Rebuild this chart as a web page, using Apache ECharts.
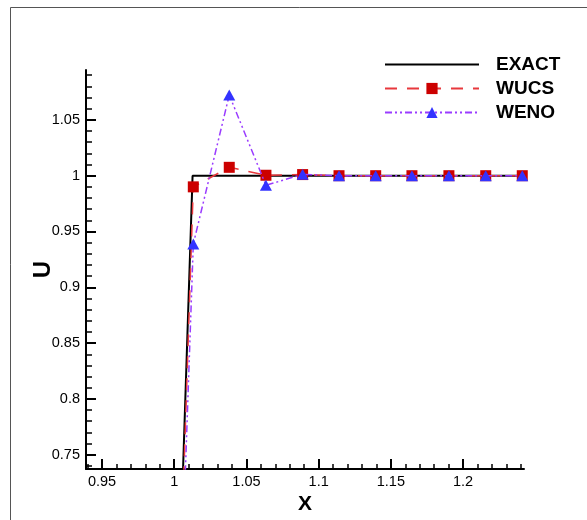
<!DOCTYPE html>
<html>
<head>
<meta charset="utf-8">
<script src="https://cdn.jsdelivr.net/npm/echarts@6/dist/echarts.min.js"></script>
<style>
html,body{margin:0;padding:0;background:#fff;}
#c{width:587px;height:520px;}
</style>
</head>
<body>
<div id="c"></div>
<script>
// ---- data ----
const xGrid = [0.9879, 1.0132, 1.0381, 1.0635, 1.0889, 1.1141, 1.1395, 1.1646, 1.1902, 1.2157, 1.2410];
const wucsU = [0.0, 0.990, 1.0075, 1.0004, 1.001, 1.0, 1.0, 1.0, 1.0, 1.0, 1.0];
const wenoU = [0.0, 0.9388, 1.0723, 0.9914, 1.0012, 1.0, 1.0, 1.0, 1.0, 1.0, 1.0];
const exactX = [0.90, 0.9876, 1.0127, 1.30];
const exactU = [0.0, 0.0, 1.0, 1.0];
const xTickValues = [0.95, 1, 1.05, 1.1, 1.15, 1.2];
const yTickValues = [0.75, 0.8, 0.85, 0.9, 0.95, 1, 1.05];
const seriesNames = ['EXACT', 'WUCS', 'WENO'];

const XMIN = 0.9389, XMAX = 1.2422;
const YMIN = 0.7372, YMAX = 1.0947;

function minorVals(lo, hi, step, majors) {
  const out = [];
  for (let k = Math.ceil(lo / step - 1e-9); k * step <= hi + 1e-9; k++) {
    const v = +(k * step).toFixed(4);
    if (!majors.some(m => Math.abs(m - v) < 1e-6)) out.push(v);
  }
  return out;
}
const xMinor = minorVals(XMIN, XMAX, 0.01, xTickValues);
const yMinor = minorVals(YMIN, YMAX, 0.01, yTickValues);

const pair = (xs, ys) => xs.map((x, i) => [x, ys[i]]);
const FONT = 'Liberation Sans, Arial, sans-serif';
const fmt = v => String(+v.toFixed(4));

const chart = echarts.init(document.getElementById('c'), null, {renderer: 'canvas'});
chart.setOption({
  animation: false,
  backgroundColor: '#fff',
  graphic: [{
    type: 'rect', silent: true,
    shape: {x: 10.5, y: 7.5, width: 800, height: 800},
    style: {fill: 'none', stroke: '#555', lineWidth: 1}
  }],
  grid: {left: 86, top: 70, width: 438, height: 399, containLabel: false},
  legend: {
    orient: 'vertical', left: 379, top: 50,
    itemWidth: 94, itemHeight: 14, itemGap: 5,
    data: [{name: 'EXACT', itemStyle: {opacity: 0}}, {name: 'WUCS'}, {name: 'WENO'}],
    textStyle: {fontFamily: FONT, fontSize: 19, fontWeight: 'bold', color: '#000', padding: [0, 0, 0, 12]}
  },
  xAxis: [{
    type: 'value', min: XMIN, max: XMAX, position: 'bottom',
    name: 'X', nameLocation: 'middle', nameGap: 25, nameMoveOverlap: false,
    nameTextStyle: {fontFamily: FONT, fontSize: 21, fontWeight: 'bold', color: '#000'},
    axisLine: {show: true, onZero: false, lineStyle: {color: '#000', width: 2}},
    axisTick: {show: true, inside: true, length: 10, customValues: xTickValues, lineStyle: {color: '#000', width: 2}},
    axisLabel: {show: true, customValues: xTickValues, formatter: fmt, margin: 5,
      fontFamily: FONT, fontSize: 14.5, color: '#000'},
    splitLine: {show: false}
  }, {
    type: 'value', min: XMIN, max: XMAX, position: 'bottom', offset: 0,
    axisLine: {show: false, onZero: false},
    axisTick: {show: true, inside: true, length: 5, customValues: xMinor, lineStyle: {color: '#000', width: 1.5}},
    axisLabel: {show: false},
    splitLine: {show: false}
  }],
  yAxis: [{
    type: 'value', min: YMIN, max: YMAX, position: 'left',
    name: 'U', nameLocation: 'middle', nameGap: 31, nameRotate: 90, nameMoveOverlap: false,
    nameTextStyle: {fontFamily: FONT, fontSize: 24, fontWeight: 'bold', color: '#000'},
    axisLine: {show: true, onZero: false, lineStyle: {color: '#000', width: 2}},
    axisTick: {show: true, inside: true, length: 10, customValues: yTickValues, lineStyle: {color: '#000', width: 2}},
    axisLabel: {show: true, customValues: yTickValues, formatter: fmt, margin: 6,
      fontFamily: FONT, fontSize: 14.5, color: '#000'},
    splitLine: {show: false}
  }, {
    type: 'value', min: YMIN, max: YMAX, position: 'left', offset: 0,
    axisLine: {show: false, onZero: false},
    axisTick: {show: true, inside: true, length: 6, customValues: yMinor, lineStyle: {color: '#000', width: 1.5}},
    axisLabel: {show: false},
    splitLine: {show: false}
  }],
  series: [{
    name: 'EXACT', type: 'line', data: pair(exactX, exactU),
    showSymbol: false, symbol: 'none', clip: true,
    lineStyle: {color: '#000', width: 2}, itemStyle: {color: '#000'}, z: 2
  }, {
    name: 'WUCS', type: 'line', data: pair(xGrid, wucsU),
    symbol: 'rect', symbolSize: 11, clip: true,
    lineStyle: {color: '#e8383d', width: 1.5, type: [12, 10]},
    itemStyle: {color: '#cc0000'}, z: 3
  }, {
    name: 'WENO', type: 'line', data: pair(xGrid, wenoU),
    symbol: 'triangle', symbolSize: [12, 11], clip: true,
    lineStyle: {color: '#9a3cff', width: 1.5, type: [7, 3, 2, 3, 2, 3]},
    itemStyle: {color: '#3333ff'}, z: 4
  }]
});
</script>
</body>
</html>
